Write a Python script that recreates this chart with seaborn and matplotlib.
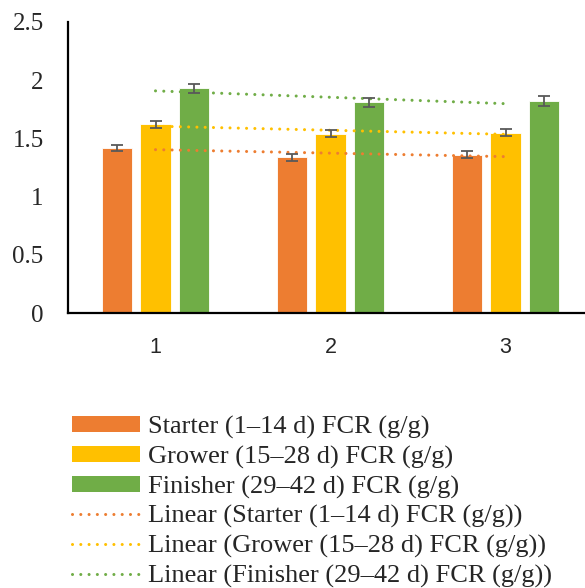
import numpy as np
import pandas as pd
import matplotlib
matplotlib.use("Agg")
import matplotlib.pyplot as plt
import seaborn as sns
from matplotlib.patches import Patch
from matplotlib.lines import Line2D

# ---- data ----
categories = ["1", "2", "3"]
series_names = ["Starter (1–14 d) FCR (g/g)",
                "Grower (15–28 d) FCR (g/g)",
                "Finisher (29–42 d) FCR (g/g)"]
starter = [1.42, 1.34, 1.36]
grower = [1.62, 1.54, 1.55]
finisher = [1.93, 1.81, 1.82]
starter_err = [0.027, 0.03, 0.03]
grower_err = [0.03, 0.03, 0.03]
finisher_err = [0.04, 0.04, 0.045]
y_ticks = [0, 0.5, 1, 1.5, 2, 2.5]
colors = ["#ED7D31", "#FFC000", "#70AD47"]

values = [starter, grower, finisher]
errors = [starter_err, grower_err, finisher_err]

rows = []
for name, vals in zip(series_names, values):
    for c, v in zip(categories, vals):
        rows.append({"cat": c, "series": name, "val": v})
df = pd.DataFrame(rows)

sns.set_theme(style="white")
plt.rcParams["font.family"] = ["Liberation Serif", "DejaVu Serif"]

fig = plt.figure(figsize=(5.85, 5.88), dpi=100)
ax = fig.add_axes([68 / 585, 1 - 313 / 588, 525 / 585, 291 / 588])

sns.barplot(data=df, x="cat", y="val", hue="series", palette=colors,
            width=0.66, gap=0.2, errorbar=None, ax=ax, legend=False,
            edgecolor="white", linewidth=0.6, saturation=1)

# error bars from bar patches
patches = [p for p in ax.patches if p.get_height() > 0]
patches.sort(key=lambda p: p.get_x())
k = 0
for ci in range(len(categories)):
    for si in range(len(series_names)):
        p = patches[k]
        k += 1
        ax.errorbar(p.get_x() + p.get_width() / 2, values[si][ci],
                    yerr=errors[si][ci], fmt="none", ecolor="#595959",
                    elinewidth=1.3, capsize=4.3, capthick=1.3, zorder=5)

# linear trendlines
xs = np.arange(len(categories))
for si in range(len(series_names)):
    m, b = np.polyfit(xs + 1, values[si], 1)
    ax.plot(xs, m * (xs + 1) + b, color=colors[si], lw=2.2,
            linestyle=(0, (0.01, 2.7)), dash_capstyle="round", zorder=4)

ax.set_xlim(-0.5, 2.5)
ax.set_ylim(0, 2.5)
ax.set_yticks(y_ticks)
ax.set_yticklabels([f"{t:g}" for t in y_ticks], fontsize=18)
ax.set_xlabel("")
ax.set_ylabel("")
ax.tick_params(axis="y", length=0, pad=17.5)
ax.tick_params(axis="x", length=0, pad=17)
for lbl in ax.get_xticklabels():
    lbl.set_fontfamily("Liberation Sans")
    lbl.set_fontsize(15.5)
for s in ["top", "right"]:
    ax.spines[s].set_visible(False)
for s in ["left", "bottom"]:
    ax.spines[s].set_color("black")
    ax.spines[s].set_linewidth(1.6)
ax.grid(False)

handles = [Patch(facecolor=c, edgecolor="none") for c in colors]
handles += [Line2D([0], [0], color=c, lw=2.2, linestyle=(0, (0.01, 2.7)),
                   dash_capstyle="round") for c in colors]
labels = series_names + [f"Linear ({n})" for n in series_names]
fig.legend(handles, labels, loc="upper left",
           bbox_to_anchor=(72 / 585, 1 - 415.5 / 588), frameon=False,
           fontsize=19, handlelength=2.58, handleheight=0.53,
           handletextpad=0.3, labelspacing=0.26, borderaxespad=0,
           borderpad=0)

fig.savefig("out.png", dpi=100)
